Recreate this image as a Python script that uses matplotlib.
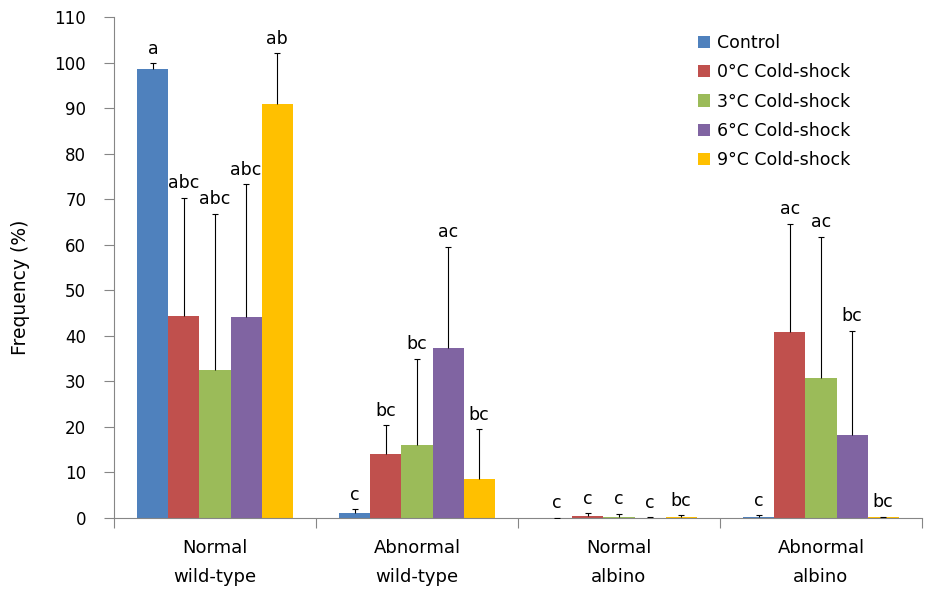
import matplotlib
matplotlib.use("Agg")
import matplotlib.pyplot as plt
import numpy as np

plt.rcParams["font.family"] = ["DejaVu Sans"]

CATEGORIES = ["Normal\nwild-type", "Abnormal\nwild-type", "Normal\nalbino", "Abnormal\nalbino"]
SERIES = ["Control", "0°C Cold-shock", "3°C Cold-shock", "6°C Cold-shock", "9°C Cold-shock"]
COLORS = ["#4F81BD", "#C0504D", "#9BBB59", "#8064A2", "#FFC000"]

control = [98.5, 1.0, 0.0, 0.2]
cold_0 = [44.3, 14.0, 0.45, 40.8]
cold_3 = [32.6, 16.0, 0.3, 30.8]
cold_6 = [44.1, 37.3, 0.1, 18.2]
cold_9 = [90.8, 8.6, 0.2, 0.2]

control_err = [1.3, 0.9, 0.0, 0.4]
cold_0_err = [26.0, 6.4, 0.55, 23.8]
cold_3_err = [34.2, 18.9, 0.6, 31.0]
cold_6_err = [29.2, 22.2, 0.1, 22.9]
cold_9_err = [11.2, 10.9, 0.4, 0.1]

control_letters = ["a", "c", "c", "c"]
cold_0_letters = ["abc", "bc", "c", "ac"]
cold_3_letters = ["abc", "bc", "c", "ac"]
cold_6_letters = ["abc", "ac", "c", "bc"]
cold_9_letters = ["ab", "bc", "bc", "bc"]

values = [control, cold_0, cold_3, cold_6, cold_9]
errors = [control_err, cold_0_err, cold_3_err, cold_6_err, cold_9_err]
letters = [control_letters, cold_0_letters, cold_3_letters, cold_6_letters, cold_9_letters]

AXIS_GRAY = "#868686"

fig = plt.figure(figsize=(9.29, 5.92), dpi=100)
ax = fig.add_axes([114 / 929, 74 / 592, 808 / 929, 501 / 592])

x = np.arange(len(CATEGORIES))
width = 0.1535
for i, (name, vals, errs, labs, color) in enumerate(zip(SERIES, values, errors, letters, COLORS)):
    pos = x + (i - 2) * width
    ax.bar(pos, vals, width=width, color=color, label=name, linewidth=0, zorder=2)
    eb = ax.errorbar(pos, vals, yerr=[np.zeros(len(errs)), errs], fmt="none", ecolor="black",
                     elinewidth=0.8, capsize=2.5, capthick=0.8, zorder=3)
    # plus-only error bars: hide the cap at the bar top
    eb[1][0].set_visible(False)
    for p, v, e, lab in zip(pos, vals, errs, labs):
        ax.annotate(lab, (p, v + e), xytext=(0, 4), textcoords="offset points",
                    ha="center", va="bottom", fontsize=12.5)

ax.set_xlim(-0.5, 3.5)
ax.set_ylim(0, 110)
ax.set_yticks(np.arange(0, 111, 10))
ax.set_xticks(x)
ax.set_xticklabels(CATEGORIES, fontsize=13, linespacing=1.8)
ax.set_xticks(np.arange(-0.5, 3.6, 1.0), minor=True)
ax.tick_params(axis="x", which="major", length=0, pad=15)
ax.tick_params(axis="x", which="minor", length=7, color=AXIS_GRAY, width=0.8)
ax.tick_params(axis="y", length=7, color=AXIS_GRAY, width=0.8, labelsize=12, pad=13)
ax.set_ylabel("Frequency (%)", fontsize=13.5)
ax.yaxis.set_label_coords(-84 / 808, 0.46)

for side in ["top", "right"]:
    ax.spines[side].set_visible(False)
for side in ["left", "bottom"]:
    ax.spines[side].set_color(AXIS_GRAY)
    ax.spines[side].set_linewidth(0.8)

ax.legend(loc="upper left", bbox_to_anchor=(698 / 929, 1 - 34 / 592), bbox_transform=fig.transFigure,
          frameon=False, fontsize=12.5, handlelength=0.7, handleheight=0.7, handletextpad=0.4,
          labelspacing=0.65, borderpad=0, borderaxespad=0)

fig.savefig("out.png", dpi=100)
